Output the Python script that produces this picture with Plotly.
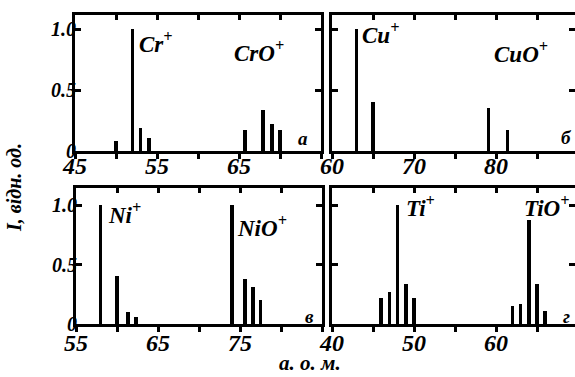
import plotly.graph_objects as go

W, H = 575, 377

# ---- data ----
cr_mass = [50, 52, 53, 54, 65.7, 67.9, 69.0, 70.0]
cr_int = [0.08, 1.0, 0.19, 0.11, 0.17, 0.34, 0.22, 0.17]

cu_mass = [63, 65, 79.1, 81.4]
cu_int = [1.0, 0.40, 0.355, 0.17]

ni_mass = [58, 60, 61.3, 62.3, 74, 75.6, 76.6, 77.5]
ni_int = [1.0, 0.40, 0.10, 0.06, 1.0, 0.38, 0.31, 0.20]

ti_mass = [46, 47, 48, 49, 50, 62, 63, 64, 65, 66]
ti_int = [0.22, 0.27, 1.0, 0.34, 0.22, 0.15, 0.17, 0.875, 0.34, 0.11]

panel_a_ticks = [45, 50, 55, 60, 65, 70, 75]
panel_a_labels = ["45", "", "55", "", "65", "", ""]
panel_b_ticks = [60, 65, 70, 75, 80, 85]
panel_b_labels = ["60", "", "70", "", "80", ""]
panel_c_ticks = [55, 60, 65, 70, 75, 80, 85]
panel_c_labels = ["55", "", "65", "", "75", "", ""]
panel_d_ticks = [40, 45, 50, 55, 60, 65]
panel_d_labels = ["40", "", "50", "", "60", ""]

y_ticks = [0, 0.5, 1.0]
y_labels = ["0", "0.5", "1.0"]

FAM = "Liberation Serif"


def px(x):
    return x / W


def py(y):
    return 1 - y / H


def bi(s):
    return f"<b><i>{s}</i></b>" if s else ""


def fnt(size):
    return dict(family=FAM, size=size, color="black", weight="bold", style="italic")


panels = [
    # mass, intensity, xrange, xticks, xlabels, x-domain px, y-domain px, yrange, show y labels, x label standoff
    (cr_mass, cr_int, [45, 75], panel_a_ticks, panel_a_labels, (75, 321), (151, 15), 1.115, True, -14),
    (cu_mass, cu_int, [60, 89.63], panel_b_ticks, panel_b_labels, (332, 575), (151, 15), 1.115, False, -14),
    (ni_mass, ni_int, [55, 85], panel_c_ticks, panel_c_labels, (76, 322), (324, 188), 1.143, True, -10),
    (ti_mass, ti_int, [40, 69.63], panel_d_ticks, panel_d_labels, (332, 575), (324, 188), 1.143, False, -10),
]

fig = go.Figure()
layout = {}
for i, (m, v, xr, xt, xl, xd, yd, ymax, showy, xso) in enumerate(panels, start=1):
    xa = "x" if i == 1 else f"x{i}"
    ya = "y" if i == 1 else f"y{i}"
    fig.add_trace(go.Bar(x=m, y=v, xaxis=xa, yaxis=ya, width=0.45,
                         marker=dict(color="black", line=dict(width=0)),
                         showlegend=False, hoverinfo="x+y"))
    xt_name = f"x{i + 4}"
    fig.add_trace(go.Scatter(x=[], y=[], xaxis=xt_name, yaxis=ya, showlegend=False))
    layout[f"xaxis{'' if i == 1 else i}"] = dict(
        domain=[px(xd[0]), min(px(xd[1]), 1.0)], range=xr, anchor=ya,
        tickmode="array", tickvals=xt, ticktext=[bi(s) for s in xl],
        ticks="outside", ticklen=5, tickwidth=3, tickcolor="black",
        showline=True, linewidth=3, linecolor="black",
        showgrid=False, zeroline=False, automargin=False,
        tickfont=fnt(24), ticklabelstandoff=xso,
    )
    layout[f"xaxis{i + 4}"] = dict(
        overlaying=xa, side="top", anchor=ya, range=xr,
        tickmode="array", tickvals=xt, ticks="inside", ticklen=5, tickwidth=3,
        tickcolor="black", showticklabels=False,
        showline=True, linewidth=3, linecolor="black",
        showgrid=False, zeroline=False, automargin=False,
    )
    layout[f"yaxis{'' if i == 1 else i}"] = dict(
        domain=[py(yd[0]), py(yd[1])], range=[0, ymax], anchor=xa,
        tickmode="array", tickvals=y_ticks, ticktext=[bi(s) for s in y_labels],
        showticklabels=showy,
        ticks="inside", ticklen=6, tickwidth=3, tickcolor="black",
        showline=True, linewidth=3, linecolor="black", mirror="ticks",
        showgrid=False, zeroline=False, automargin=False,
        tickfont=fnt(20), ticklabelstandoff=-8,
    )

labels = [
    ("Cr<sup>+</sup>", 137, 43),
    ("CrO<sup>+</sup>", 232, 51),
    ("Cu<sup>+</sup>", 360, 33),
    ("CuO<sup>+</sup>", 492, 52),
    ("Ni<sup>+</sup>", 106, 214),
    ("NiO<sup>+</sup>", 235, 226),
    ("Ti<sup>+</sup>", 404, 206),
    ("TiO<sup>+</sup>", 522, 206),
]
ann = []
for t, x, y in labels:
    ann.append(dict(text=bi(t), x=px(x), y=py(y), xref="paper", yref="paper",
                    xanchor="left", yanchor="middle", showarrow=False, font=fnt(23)))

letters = [("а", 303, 138), ("б", 566, 137), ("в", 309, 316), ("г", 566, 316)]
for t, x, y in letters:
    ann.append(dict(text=bi(t), x=px(x), y=py(y), xref="paper", yref="paper",
                    xanchor="center", yanchor="middle", showarrow=False, font=fnt(19)))

ann.append(dict(text=bi("I, відн. од."), x=px(14), y=py(188), xref="paper", yref="paper",
                xanchor="center", yanchor="middle", showarrow=False, textangle=-90,
                font=fnt(20)))
ann.append(dict(text=bi("а. о. м."), x=px(310), y=0, xref="paper", yref="paper",
                xanchor="center", yanchor="bottom", showarrow=False, font=fnt(21)))

fig.update_layout(
    width=W, height=H,
    margin=dict(l=0, r=0, t=0, b=0, pad=0, autoexpand=False),
    paper_bgcolor="white", plot_bgcolor="white",
    bargap=0, annotations=ann, showlegend=False,
    **layout,
)

fig.write_html("out.html", config={"displayModeBar": False},
               post_script="document.body.style.margin='0';document.body.style.overflow='hidden';")
